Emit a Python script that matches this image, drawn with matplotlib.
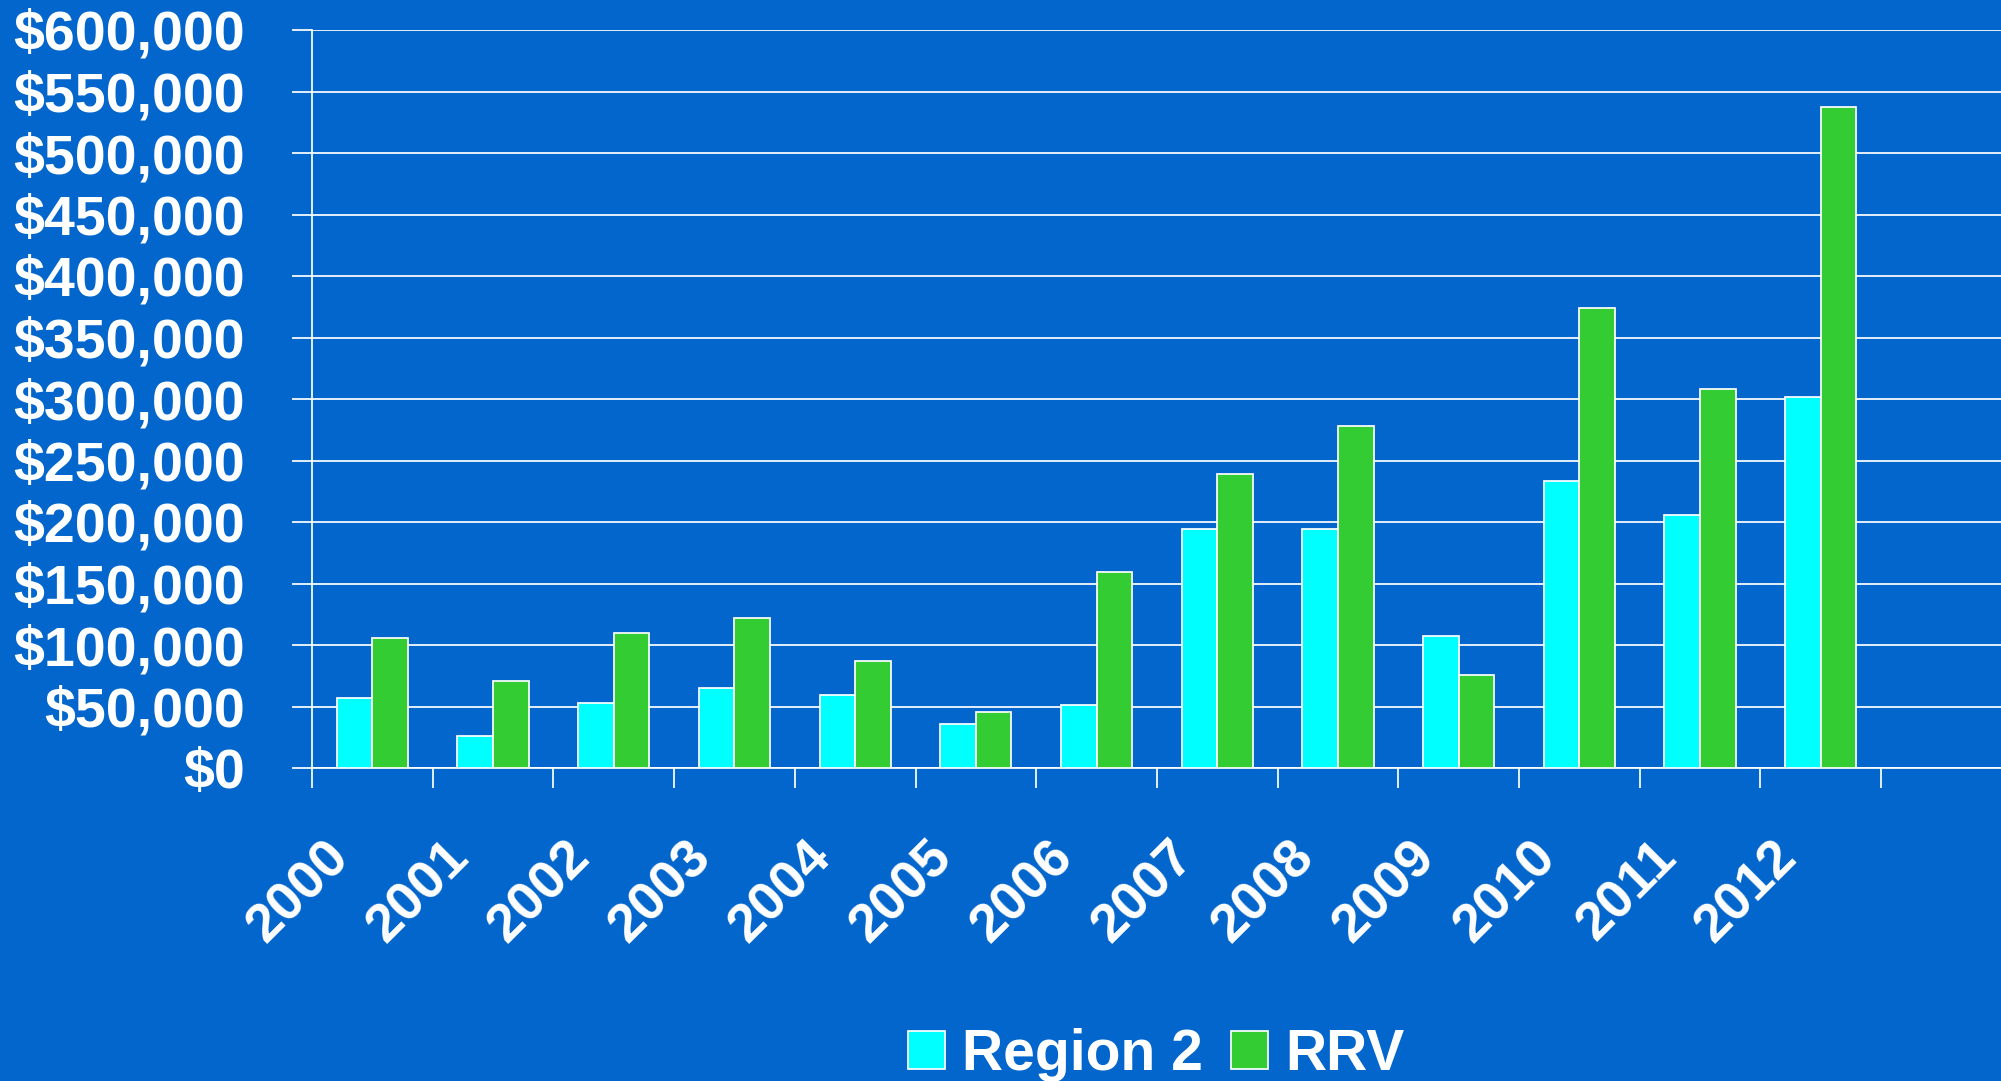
import matplotlib
matplotlib.use('Agg')
import matplotlib.pyplot as plt
import matplotlib.transforms as mtransforms
import numpy as np

# ---- data ----
years = ['2000', '2001', '2002', '2003', '2004', '2005', '2006',
         '2007', '2008', '2009', '2010', '2011', '2012']
region2 = [57000, 26000, 53000, 65000, 59000, 35500, 51500,
           194000, 194000, 107000, 233000, 206000, 302000]
rrv = [106000, 71000, 110000, 122000, 87000, 45500, 159500,
       239000, 278000, 76000, 374000, 308000, 537000]
series_names = ['Region 2', 'RRV']
y_ticks = [0, 50000, 100000, 150000, 200000, 250000, 300000,
           350000, 400000, 450000, 500000, 550000, 600000]
y_tick_labels = ['$0', '$50,000', '$100,000', '$150,000', '$200,000',
                 '$250,000', '$300,000', '$350,000', '$400,000',
                 '$450,000', '$500,000', '$550,000', '$600,000']

# ---- style ----
BG = '#0366CC'
C_R2 = '#00FFFF'
C_RRV = '#33CC33'
plt.rcParams['font.family'] = ['Liberation Sans', 'DejaVu Sans']
plt.rcParams['font.weight'] = 'bold'
plt.rcParams['text.parse_math'] = False

W, H = 2001, 1081
fig = plt.figure(figsize=(W / 100, H / 100), dpi=100, facecolor=BG)
left_px, right_px, top_px, bottom_px = 312, 2001, 30, 768
ax = fig.add_axes([left_px / W, 1 - bottom_px / H,
                   (right_px - left_px) / W, (bottom_px - top_px) / H])
ax.set_facecolor(BG)

LW = 1.25
x = np.arange(len(years))
bw = 0.295
ax.bar(x - bw / 2, region2, bw, color=C_R2, edgecolor='white',
       linewidth=LW, label=series_names[0], zorder=3)
ax.bar(x + bw / 2, rrv, bw, color=C_RRV, edgecolor='white',
       linewidth=LW, label=series_names[1], zorder=3)

cat_px = 120.7
ax.set_xlim(-0.5, -0.5 + (right_px - left_px) / cat_px)
ax.set_ylim(0, 600000)

ax.set_yticks(y_ticks)
ax.set_yticklabels(y_tick_labels)
ax.yaxis.grid(True, color='white', linewidth=LW, zorder=0)
ax.set_axisbelow(True)

for s in ['top', 'right']:
    ax.spines[s].set_visible(False)
for s in ['left', 'bottom']:
    ax.spines[s].set_color('white')
    ax.spines[s].set_linewidth(LW)

ax.tick_params(axis='y', which='major', length=14.4, width=LW,
               color='white', direction='out', pad=34,
               labelsize=40, labelcolor='white')

ax.set_xticks(x)
ax.set_xticks(np.arange(-0.5, len(years)), minor=True)
ax.set_xticklabels(years, rotation=45, ha='right', va='top')
ax.tick_params(axis='x', which='major', length=0, pad=46,
               labelsize=39, labelcolor='white')
ax.tick_params(axis='x', which='minor', length=14.4, width=LW,
               color='white', direction='out')
for lbl in ax.get_xticklabels():
    lbl.set_transform(lbl.get_transform() +
                      mtransforms.ScaledTranslation(-14 / 100, 0,
                                                    fig.dpi_scale_trans))
for lbl in ax.get_yticklabels():
    lbl.set_fontweight('bold')

leg = ax.legend(loc='center', bbox_to_anchor=(1156 / W, 1 - 1055 / H),
                bbox_transform=fig.transFigure, ncol=2, frameon=False,
                fontsize=41, handlelength=0.65, handleheight=0.65,
                handletextpad=0.3, columnspacing=0.5, borderpad=0,
                borderaxespad=0)
for t in leg.get_texts():
    t.set_color('white')
    t.set_fontweight('bold')

fig.savefig('out.png', dpi=100, facecolor=BG)
